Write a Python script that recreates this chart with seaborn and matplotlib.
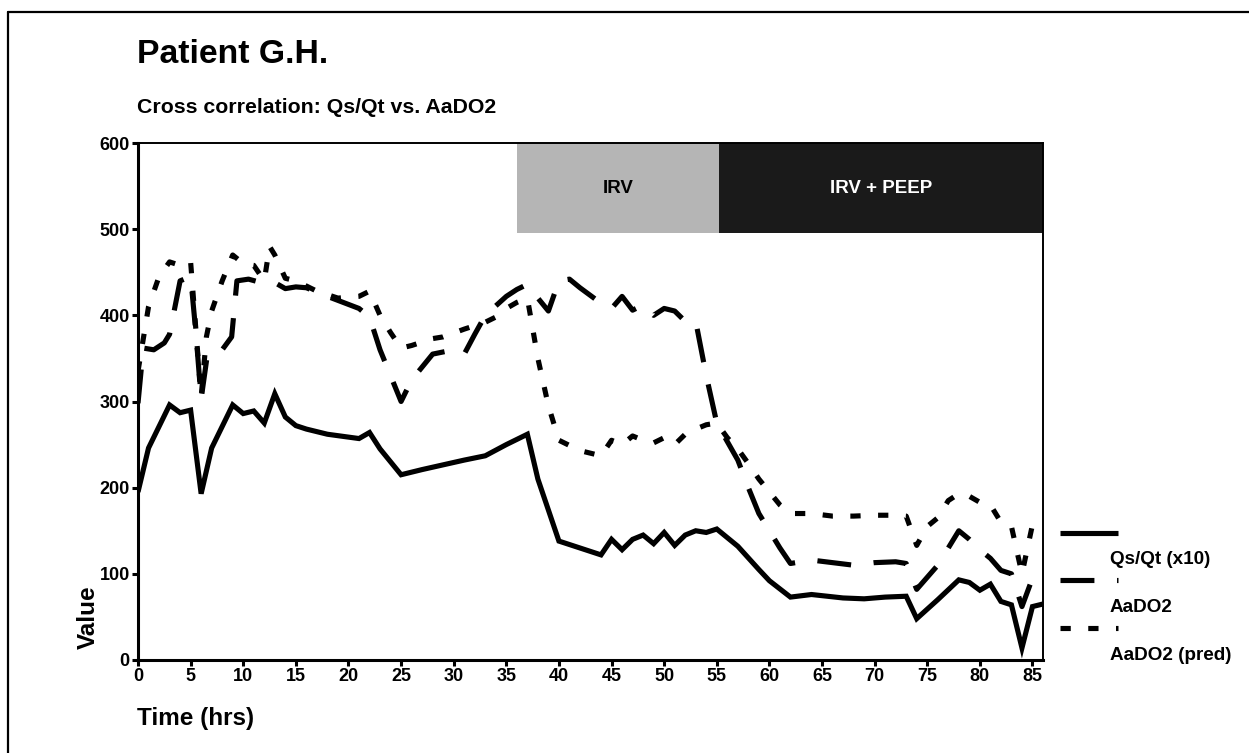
import numpy as np
import pandas as pd
import matplotlib
matplotlib.use("Agg")
import matplotlib.pyplot as plt
from matplotlib.lines import Line2D
import seaborn as sns

# data
qs_time = [0, 1, 3, 4, 5, 6, 7, 9, 10, 11, 12, 13, 14, 15, 16, 18, 21, 22, 23, 25,
           27, 31, 33, 35, 37, 38, 40, 42, 44, 45, 46, 47, 48, 49, 50, 51, 52, 53, 54, 55,
           57, 59, 60, 62, 64, 67, 69, 71, 73, 74, 76, 78, 79, 80, 81, 82, 83, 84, 85, 86]
qs_vals = [195, 246, 296, 287, 290, 193, 246, 296, 286, 289, 275, 309, 282, 272, 268, 262, 257, 264, 245, 215,
           221, 232, 237, 250, 262, 210, 138, 130, 122, 140, 128, 140, 145, 135, 148, 133, 145, 150, 148, 152,
           132, 105, 92, 73, 76, 72, 71, 73, 74, 48, 70, 93, 90, 81, 88, 68, 64, 14, 62, 65]

aado2_time = [0, 0.5, 1.5, 2.5, 3, 4, 5, 5.5, 6, 6.6, 7, 8, 8.9, 9.4, 10.5, 12, 13, 14, 15, 16,
              18, 21, 22, 23, 25, 26, 28, 30, 31, 32, 33, 35, 36, 37, 38, 39, 40, 41, 42, 44,
              45, 46, 47, 48, 49, 50, 51, 52, 53, 54, 55, 57, 58, 59, 60, 61, 62, 64, 66, 68,
              70, 72, 73, 74, 76, 77, 78, 79, 80, 81, 82, 83, 84, 85, 86]
aado2_vals = [298, 362, 360, 368, 378, 440, 445, 380, 303, 355, 358, 360, 375, 440, 442, 437, 438, 431, 433, 432,
              422, 408, 398, 360, 300, 325, 355, 360, 355, 378, 400, 422, 430, 436, 420, 405, 440, 442, 432, 414,
              408, 422, 406, 412, 400, 408, 405, 393, 393, 330, 275, 232, 200, 170, 150, 130, 112, 116, 113, 110,
              113, 114, 112, 82, 110, 130, 150, 140, 128, 118, 104, 100, 62, 95, 93]

pred_time = [0, 1, 2, 3, 4, 5, 6, 6.5, 7, 8, 9, 10, 11, 12, 12.5, 13, 14, 15, 17, 19,
             21, 22, 23, 24, 25, 26, 28, 29, 31, 33, 34, 35, 36, 37, 38, 39, 40, 42, 44, 45,
             46, 47, 48, 49, 50, 51, 52, 53, 54, 55, 56, 57, 58, 59, 60, 61, 62, 64, 66, 68,
             70, 72, 73, 74, 75, 76, 77, 78, 79, 80, 81, 82, 83, 84, 85, 86]
pred_vals = [335, 410, 445, 462, 458, 462, 305, 375, 405, 440, 470, 460, 458, 440, 480, 470, 443, 440, 428, 420,
             422, 428, 400, 380, 362, 365, 373, 375, 384, 392, 398, 408, 415, 420, 350, 295, 255, 243, 237, 255,
             250, 260, 255, 252, 258, 250, 262, 268, 273, 275, 258, 245, 228, 210, 195, 180, 170, 170, 167, 167,
             168, 168, 167, 133, 155, 165, 185, 193, 190, 183, 180, 160, 155, 100, 157, 160]

phases = ["IRV", "IRV + PEEP"]
phase_start = [36, 55.2]
phase_end = [55.2, 86]
phase_colors = ["#b5b5b5", "#1a1a1a"]
phase_text_colors = ["black", "white"]

series_names = ["Qs/Qt (x10)", "AaDO2", "AaDO2 (pred)"]

sns.set_style("ticks")
plt.rcParams['font.family'] = ['Liberation Sans', 'DejaVu Sans']
plt.rcParams['font.weight'] = 'bold'
plt.rcParams['text.color'] = 'black'
plt.rcParams['axes.labelcolor'] = 'black'
plt.rcParams['xtick.color'] = 'black'
plt.rcParams['ytick.color'] = 'black'

W, H = 1249, 753
fig = plt.figure(figsize=(W / 100, H / 100), dpi=100)
ax = fig.add_axes([138 / W, 1 - 660 / H, (1043 - 138) / W, (660 - 143) / H])

lw = 3.7
styles = ["-", (0, (6.6, 4.4)), (0, (2.0, 3.4))]

# shaded treatment phases
for name, x0, x1, c, tc in zip(phases, phase_start, phase_end, phase_colors, phase_text_colors):
    ax.axvspan(x0, x1, ymin=495 / 600, ymax=1, color=c, lw=0, zorder=1)
    ax.text((x0 + x1) / 2, 547, name, ha="center", va="center", color=tc,
            fontsize=13.5, fontweight="bold", zorder=2)

df_qs = pd.DataFrame({"t": qs_time, "v": qs_vals})
df_aa = pd.DataFrame({"t": aado2_time, "v": aado2_vals})
df_pr = pd.DataFrame({"t": pred_time, "v": pred_vals})

for df, ls in zip([df_qs, df_aa, df_pr], styles):
    sns.lineplot(data=df, x="t", y="v", ax=ax, color="black", lw=lw, linestyle=ls,
                 solid_capstyle="butt", dash_capstyle="butt", solid_joinstyle="miter", zorder=3)

ax.set_xlim(0, 86)
ax.set_ylim(0, 600)
ax.set_xticks(np.arange(0, 86, 5))
ax.set_yticks(np.arange(0, 601, 100))
ax.set_xlabel("")
ax.set_ylabel("")
ax.tick_params(axis="both", direction="out", length=4, width=2.2, labelsize=13, pad=2, colors="black")
for lab in ax.get_xticklabels() + ax.get_yticklabels():
    lab.set_fontweight("bold")
for side in ["left", "bottom"]:
    ax.spines[side].set_linewidth(2.2)
    ax.spines[side].set_color("black")
for side in ["top", "right"]:
    ax.spines[side].set_visible(True)
    ax.spines[side].set_linewidth(1.4)
    ax.spines[side].set_color("black")

# titles and axis labels
fig.text(137 / W, 1 - 63 / H, "Patient G.H.", fontsize=24.3, fontweight="bold", ha="left", va="baseline")
fig.text(137 / W, 1 - 113 / H, "Cross correlation: Qs/Qt vs. AaDO2", fontsize=15.3, fontweight="bold",
         ha="left", va="baseline")
fig.text(88 / W, 1 - 617 / H, "Value", fontsize=17.5, fontweight="bold", rotation=90, ha="center", va="center")
fig.text(137 / W, 1 - 718 / H, "Time (hrs)", fontsize=17.5, fontweight="bold", ha="left", va="center")

# legend: handle above, label below
leg_y = [533, 580, 628]
for name, ls, y in zip(series_names, styles, leg_y):
    fig.add_artist(Line2D([1060 / W, 1118 / W], [1 - y / H, 1 - y / H], color="black", lw=lw,
                          linestyle=ls, solid_capstyle="butt", dash_capstyle="butt",
                          transform=fig.transFigure))
    fig.text(1110 / W, 1 - (y + 27) / H, name, fontsize=13.6, fontweight="bold", ha="left", va="center")

# frame lines on top and left of the figure
fig.add_artist(Line2D([8 / W, 1], [1 - 12 / H, 1 - 12 / H], color="black", lw=1.6, transform=fig.transFigure))
fig.add_artist(Line2D([8 / W, 8 / W], [0, 1 - 12 / H], color="black", lw=1.6, transform=fig.transFigure))

fig.savefig("out.png", dpi=100)
